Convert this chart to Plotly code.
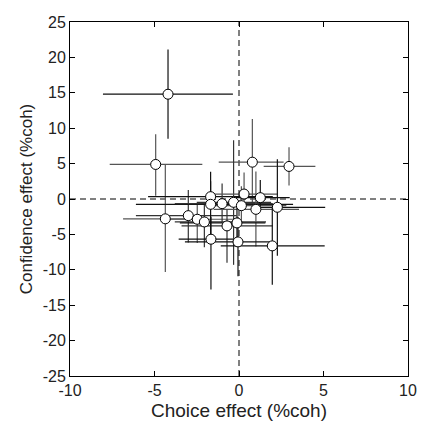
import plotly.graph_objects as go

# Data
x = [-4.2, -4.93, 0.79, 2.96, -4.36, -3.0, -2.47, -2.05, -1.68, -1.68, -1.0,
     -0.32, 0.3, 0.14, 1.26, 1.0, 2.27, -0.71, -0.12, -1.66, -0.06, 1.97]
y = [14.8, 4.88, 5.2, 4.6, -2.8, -2.35, -2.86, -3.24, 0.33, -0.75, -0.66,
     -0.47, 0.7, -0.94, 0.19, -1.46, -1.17, -3.8, -3.38, -5.68, -6.06, -6.62]
x_lo = [-8.05, -7.65, -1.2, 1.46, -6.86, -6.1, -4.5, -3.8, -5.38, -6.1, -3.8,
        -2.5, -1.6, -1.8, -0.4, -1.5, 0.8, -3.4, -3.5, -3.57, -3.2, -1.08]
x_hi = [-0.36, -2.17, 2.64, 4.52, -1.9, -0.15, -0.3, 1.6, 2.0, 3.2, 2.0,
        1.9, 2.3, 2.8, 3.0, 3.55, 5.1, 2.0, 1.56, -0.1, 2.0, 5.07]
y_lo = [8.5, 0.47, -1.1, 1.9, -10.3, -6.15, -6.2, -6.8, -1.5, -5.0, -3.4,
        -9.3, -1.0, -3.0, -1.1, -6.7, -8.0, -9.0, -6.0, -12.8, -10.9, -12.1]
y_hi = [21.1, 9.15, 11.3, 7.3, 4.9, 1.27, -0.6, -0.6, 3.85, 2.5, 2.2,
        8.3, 3.75, 1.8, 2.7, 3.9, 5.6, -1.5, -0.5, -2.5, -2.5, -1.1]
bar_colors = ["#111111", "#555555", "#555555", "#555555", "#555555", "#333333",
              "#555555", "#333333", "#111111", "#111111", "#333333", "#333333",
              "#555555", "#555555", "#111111", "#555555", "#111111", "#333333",
              "#111111", "#111111", "#111111", "#111111"]

x_ticks = [-10, -5, 0, 5, 10]
x_ticktext = ["-10", "-5", "0", "5", "10"]
y_ticks = [-25, -20, -15, -10, -5, 0, 5, 10, 15, 20, 25]
y_ticktext = ["-25", "-20", "-15", "-10", "-5", "0", "5", "10", "15", "20", "25"]

fig = go.Figure()

for i in range(len(x)):
    fig.add_trace(go.Scatter(
        x=[x[i]], y=[y[i]], mode="markers",
        marker=dict(size=1, color="rgba(0,0,0,0)"),
        error_x=dict(type="data", symmetric=False,
                     array=[x_hi[i] - x[i]], arrayminus=[x[i] - x_lo[i]],
                     color=bar_colors[i], thickness=1.2, width=0),
        error_y=dict(type="data", symmetric=False,
                     array=[y_hi[i] - y[i]], arrayminus=[y[i] - y_lo[i]],
                     color=bar_colors[i], thickness=1.2, width=0),
        showlegend=False, hoverinfo="skip"))

fig.add_trace(go.Scatter(
    x=x, y=y, mode="markers",
    marker=dict(size=10, color="white", line=dict(color="black", width=1)),
    showlegend=False))

fig.add_shape(type="line", x0=0, x1=0, y0=-25, y1=25, xref="x", yref="y",
              line=dict(color="black", width=1, dash="6px,4px"), layer="below")
fig.add_shape(type="line", x0=-10, x1=10, y0=0, y1=0, xref="x", yref="y",
              line=dict(color="black", width=1, dash="6px,4px"), layer="below")

axis_common = dict(showgrid=False, zeroline=False, showline=True, linecolor="black",
                   linewidth=1, mirror="ticks", ticks="inside", ticklen=5,
                   tickcolor="black", tickfont=dict(size=16, color="#222"))

fig.update_layout(
    width=428, height=429,
    margin=dict(l=70, r=20, t=22, b=53),
    paper_bgcolor="white", plot_bgcolor="white",
    font=dict(family="Liberation Sans, Arial, sans-serif", color="#222"),
    xaxis=dict(range=[-10, 10], tickvals=x_ticks, ticktext=x_ticktext,
               title=dict(text="Choice effect (%coh)", font=dict(size=19), standoff=5),
               **axis_common),
    yaxis=dict(range=[-25, 25], tickvals=y_ticks, ticktext=y_ticktext,
               title=dict(text="Confidence effect (%coh)", font=dict(size=17), standoff=5),
               **axis_common),
)

fig.write_html("out.html")
